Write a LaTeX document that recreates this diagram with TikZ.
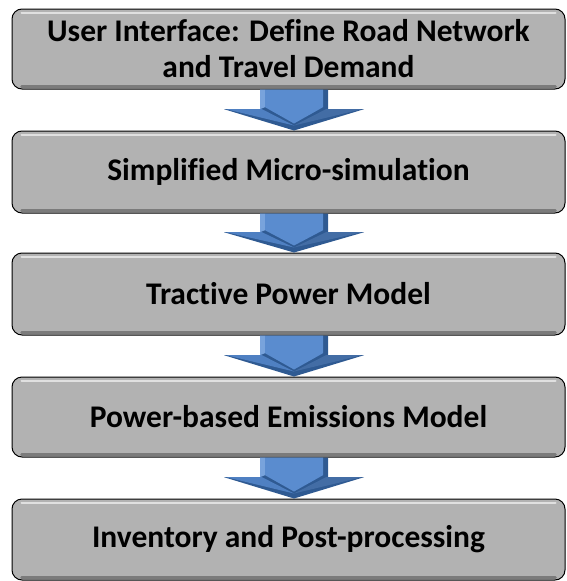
\documentclass[tikz,border=0pt]{standalone}
\usepackage{fontspec}
\setmainfont{Carlito}[Ligatures=NoCommon]
\usetikzlibrary{calc}
\definecolor{boxgray}{HTML}{B2B2B2}
\definecolor{boxlight}{HTML}{E6E6E6}
\definecolor{boxdark}{HTML}{6E6E6E}
\definecolor{arrface}{HTML}{5A8CCF}
\definecolor{arrwing}{HTML}{4F80C2}
\definecolor{arrdark}{HTML}{2F5A92}
\definecolor{arrlight}{HTML}{78A3DC}
\tikzset{
  stepbox/.style={draw=black, line width=1pt, fill=boxgray, rounded corners=10pt,
    minimum width=553pt, inner sep=0pt, align=center,
    font=\fontsize{31.5}{36}\selectfont\bfseries, text=black},
}
\newcommand{\bevelarrow}[2]{%
  \path let \p1=(#1.south), \p2=(#2.north), \n1={\y1-(\y1-\y2)*0.48} in
    coordinate (t) at (294pt,\y1) coordinate (p) at (294pt,\y2)
    coordinate (h) at (294pt,\n1);
  \fill[arrdark] (t -| 260,0) -- (t -| 328,0) -- (h -| 328,0) -- (h -| 364,0) -- (p) -- (h -| 224,0) -- (h -| 260,0) -- cycle;
  \fill[arrwing] (h -| 226,0) -- (h -| 262,0) -- ($(p)+(0,-5)$) -- cycle;
  \fill[arrwing!85!black] (h -| 362,0) -- (h -| 326,0) -- ($(p)+(0,-5)$) -- cycle;
  \fill[arrlight] (t -| 260,0) -- (t -| 265,0) -- ($(h -| 265,0)+(0,-2)$) -- (h -| 260,0) -- cycle;
  \fill[arrface] (t -| 265,0) -- (t -| 323,0) -- ($(h -| 323,0)+(0,-2)$) -- ($(p)+(0,-7)$) -- ($(h -| 265,0)+(0,-2)$) -- cycle;
}
\begin{document}
\begin{tikzpicture}[x=1pt,y=-1pt]
\useasboundingbox (0,0) rectangle (566,581);
\begin{scope}
\clip (0,0) rectangle (566,581);
\node[stepbox, minimum height=80pt] (b1) at (288.5,49) {User Interface: Define Road Network\\and Travel Demand};
\node[stepbox, minimum height=82pt] (b2) at (288.5,172) {Simplified Micro-simulation};
\node[stepbox, minimum height=82pt] (b3) at (288.5,294) {Tractive Power Model};
\node[stepbox, minimum height=80pt] (b4) at (288.5,417) {Power-based Emissions Model};
\node[stepbox, minimum height=81pt] (b5) at (288.5,539.5) {Inventory and Post-processing};
\foreach \b in {b1,b2,b3,b4,b5}{
  \draw[boxlight, line width=2pt, line cap=round, opacity=0.9]
    ($(\b.north west)+(10pt,-4pt)$) -- ($(\b.north east)+(-10pt,-4pt)$);
  \draw[boxdark, line width=2.5pt, line cap=round, opacity=0.8]
    ($(\b.south west)+(10pt,3pt)$) -- ($(\b.south east)+(-10pt,3pt)$);
}
\end{scope}
\bevelarrow{b1}{b2}
\bevelarrow{b2}{b3}
\bevelarrow{b3}{b4}
\bevelarrow{b4}{b5}
\end{tikzpicture}
\end{document}
